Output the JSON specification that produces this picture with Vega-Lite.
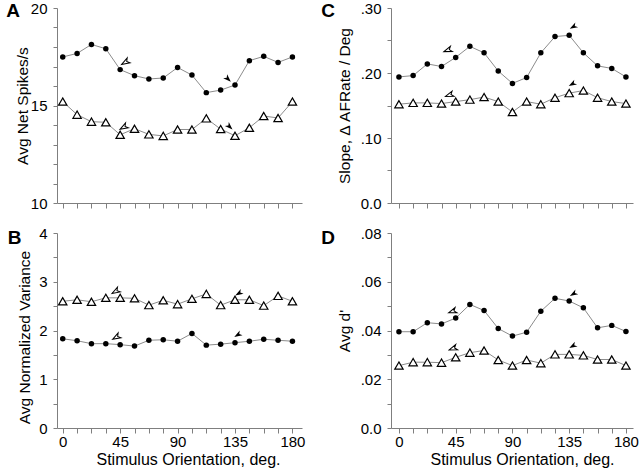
{
  "$schema": "https://vega.github.io/schema/vega-lite/v6.json",
  "autosize": {"type": "none"},
  "padding": {"left": 57, "top": 8, "right": 583, "bottom": 466},
  "background": "white",
  "datasets": {
    "a": [
      {"o": 0, "dot": 17.49, "tri": 15.2}, {"o": 11.25, "dot": 17.67, "tri": 14.53}, {"o": 22.5, "dot": 18.13, "tri": 14.17},
      {"o": 33.75, "dot": 17.91, "tri": 14.14}, {"o": 45, "dot": 16.84, "tri": 13.5}, {"o": 56.25, "dot": 16.53, "tri": 13.81},
      {"o": 67.5, "dot": 16.36, "tri": 13.52}, {"o": 78.75, "dot": 16.41, "tri": 13.44}, {"o": 90, "dot": 16.95, "tri": 13.77},
      {"o": 101.25, "dot": 16.56, "tri": 13.77}, {"o": 112.5, "dot": 15.66, "tri": 14.34}, {"o": 123.75, "dot": 15.79, "tri": 13.79},
      {"o": 135, "dot": 16.05, "tri": 13.45}, {"o": 146.25, "dot": 17.3, "tri": 13.86}, {"o": 157.5, "dot": 17.52, "tri": 14.46},
      {"o": 168.75, "dot": 17.21, "tri": 14.36}, {"o": 180, "dot": 17.49, "tri": 15.2}
    ],
    "b": [
      {"o": 0, "dot": 1.83, "tri": 2.6}, {"o": 11.25, "dot": 1.79, "tri": 2.63}, {"o": 22.5, "dot": 1.73, "tri": 2.59},
      {"o": 33.75, "dot": 1.73, "tri": 2.67}, {"o": 45, "dot": 1.71, "tri": 2.67}, {"o": 56.25, "dot": 1.68, "tri": 2.66},
      {"o": 67.5, "dot": 1.8, "tri": 2.52}, {"o": 78.75, "dot": 1.81, "tri": 2.62}, {"o": 90, "dot": 1.78, "tri": 2.54},
      {"o": 101.25, "dot": 1.94, "tri": 2.65}, {"o": 112.5, "dot": 1.7, "tri": 2.75}, {"o": 123.75, "dot": 1.72, "tri": 2.52},
      {"o": 135, "dot": 1.75, "tri": 2.63}, {"o": 146.25, "dot": 1.78, "tri": 2.63}, {"o": 157.5, "dot": 1.82, "tri": 2.51},
      {"o": 168.75, "dot": 1.8, "tri": 2.71}, {"o": 180, "dot": 1.78, "tri": 2.6}
    ],
    "c": [
      {"o": 0, "dot": 0.194, "tri": 0.152}, {"o": 11.25, "dot": 0.196, "tri": 0.154}, {"o": 22.5, "dot": 0.214, "tri": 0.154},
      {"o": 33.75, "dot": 0.21, "tri": 0.153}, {"o": 45, "dot": 0.224, "tri": 0.156}, {"o": 56.25, "dot": 0.241, "tri": 0.159},
      {"o": 67.5, "dot": 0.231, "tri": 0.163}, {"o": 78.75, "dot": 0.203, "tri": 0.156}, {"o": 90, "dot": 0.184, "tri": 0.14},
      {"o": 101.25, "dot": 0.193, "tri": 0.156}, {"o": 112.5, "dot": 0.231, "tri": 0.152}, {"o": 123.75, "dot": 0.256, "tri": 0.162},
      {"o": 135, "dot": 0.258, "tri": 0.169}, {"o": 146.25, "dot": 0.231, "tri": 0.173}, {"o": 157.5, "dot": 0.211, "tri": 0.162},
      {"o": 168.75, "dot": 0.207, "tri": 0.156}, {"o": 180, "dot": 0.194, "tri": 0.153}
    ],
    "d": [
      {"o": 0, "dot": 0.0395, "tri": 0.0256}, {"o": 11.25, "dot": 0.0395, "tri": 0.027}, {"o": 22.5, "dot": 0.0432, "tri": 0.027},
      {"o": 33.75, "dot": 0.0427, "tri": 0.0268}, {"o": 45, "dot": 0.0451, "tri": 0.029}, {"o": 56.25, "dot": 0.0507, "tri": 0.0309},
      {"o": 67.5, "dot": 0.0482, "tri": 0.0318}, {"o": 78.75, "dot": 0.0408, "tri": 0.0279}, {"o": 90, "dot": 0.0377, "tri": 0.0256},
      {"o": 101.25, "dot": 0.0393, "tri": 0.0279}, {"o": 112.5, "dot": 0.0479, "tri": 0.0266}, {"o": 123.75, "dot": 0.0532, "tri": 0.0302},
      {"o": 135, "dot": 0.0521, "tri": 0.0302}, {"o": 146.25, "dot": 0.0493, "tri": 0.0298}, {"o": 157.5, "dot": 0.0411, "tri": 0.0281},
      {"o": 168.75, "dot": 0.0421, "tri": 0.0281}, {"o": 180, "dot": 0.0396, "tri": 0.0256}
    ],
    "arrA": [{"o": 48.9, "v": 17.21, "k": "open"}, {"o": 129.5, "v": 16.36, "k": "filled"}, {"o": 47.6, "v": 13.88, "k": "open"}, {"o": 130.8, "v": 13.91, "k": "filled"}],
    "arrB": [{"o": 41.3, "v": 2.8, "k": "open"}, {"o": 137.9, "v": 2.76, "k": "filled"}, {"o": 41.8, "v": 1.86, "k": "open"}, {"o": 137.1, "v": 1.91, "k": "filled"}],
    "arrC": [{"o": 38.6, "v": 0.235, "k": "open"}, {"o": 138.2, "v": 0.271, "k": "filled"}, {"o": 39.9, "v": 0.166, "k": "open"}, {"o": 137.4, "v": 0.183, "k": "filled"}],
    "arrD": [{"o": 42.3, "v": 0.0478, "k": "open"}, {"o": 138.3, "v": 0.055, "k": "filled"}, {"o": 42.8, "v": 0.0326, "k": "open"}, {"o": 137.8, "v": 0.0336, "k": "filled"}]
  },
  "concat": [
    {
      "width": 245, "height": 195,
      "title": {"text": "A", "dx": -9, "dy": 24},
      "encoding": {
        "x": {"field": "o", "type": "quantitative", "scale": {"domain": [-4.5, 187.5], "nice": false, "zero": false},
              "axis": {"values": [0, 11.25, 22.5, 33.75, 45, 56.25, 67.5, 78.75, 90, 101.25, 112.5, 123.75, 135, 146.25, 157.5, 168.75, 180], "labels": false, "title": null}},
        "y": {"field": "v", "type": "quantitative", "scale": {"domain": [10, 20], "nice": false, "zero": false},
              "axis": {"values": [10, 11, 12, 13, 14, 15, 16, 17, 18, 19, 20], "labelExpr": "datum.value % 5 == 0 ? datum.label : ''", "title": "Avg Net Spikes/s", "titlePadding": 0}}
      },
      "layer": [
        {"data": {"name": "a"}, "transform": [{"fold": ["dot", "tri"], "as": ["s", "v"]}], "mark": {"type": "line", "color": "#8c8c8c", "strokeWidth": 1}, "encoding": {"detail": {"field": "s"}}},
        {"data": {"name": "a"}, "transform": [{"fold": ["dot"], "as": ["s", "v"]}], "mark": {"type": "point", "shape": "circle", "filled": true, "color": "black", "size": 30, "opacity": 1}},
        {"data": {"name": "a"}, "transform": [{"fold": ["tri"], "as": ["s", "v"]}], "mark": {"type": "point", "shape": "triangle-up", "fill": "white", "stroke": "black", "strokeWidth": 1.2, "size": 70, "opacity": 1, "fillOpacity": 1}},
        {"data": {"name": "arrA"}, "transform": [{"filter": "datum.k == 'open'"}], "mark": {"type": "point", "shape": "M -1 0 L 1 -0.7 L 0.45 0 L 1 0.7 Z", "angle": -30, "fill": "white", "stroke": "black", "strokeWidth": 1, "size": 64, "opacity": 1, "fillOpacity": 1}},
        {"data": {"name": "arrA"}, "transform": [{"filter": "datum.k == 'filled'"}], "mark": {"type": "point", "shape": "M -1 0 L 1 -0.7 L 0.45 0 L 1 0.7 Z", "angle": 225, "filled": true, "color": "black", "size": 64, "opacity": 1}}
      ]
    },
    {
      "width": 242, "height": 195,
      "title": {"text": "C", "dx": -16, "dy": 24},
      "encoding": {
        "x": {"field": "o", "type": "quantitative", "scale": {"domain": [-6.3, 185.6], "nice": false, "zero": false},
              "axis": {"values": [0, 11.25, 22.5, 33.75, 45, 56.25, 67.5, 78.75, 90, 101.25, 112.5, 123.75, 135, 146.25, 157.5, 168.75, 180], "labels": false, "title": null}},
        "y": {"field": "v", "type": "quantitative", "scale": {"domain": [0, 0.3], "nice": false},
              "axis": {"values": [0, 0.05, 0.1, 0.15, 0.2, 0.25, 0.3], "labelExpr": "datum.value == 0 ? '0.0' : (round(datum.value * 100) % 10 == 0 ? slice(format(datum.value, '.2f'), 1) : '')", "title": "Slope, Δ AFRate / Deg", "titlePadding": 8}}
      },
      "layer": [
        {"data": {"name": "c"}, "transform": [{"fold": ["dot", "tri"], "as": ["s", "v"]}], "mark": {"type": "line", "color": "#8c8c8c", "strokeWidth": 1}, "encoding": {"detail": {"field": "s"}}},
        {"data": {"name": "c"}, "transform": [{"fold": ["dot"], "as": ["s", "v"]}], "mark": {"type": "point", "shape": "circle", "filled": true, "color": "black", "size": 30, "opacity": 1}},
        {"data": {"name": "c"}, "transform": [{"fold": ["tri"], "as": ["s", "v"]}], "mark": {"type": "point", "shape": "triangle-up", "fill": "white", "stroke": "black", "strokeWidth": 1.2, "size": 70, "opacity": 1, "fillOpacity": 1}},
        {"data": {"name": "arrC"}, "transform": [{"filter": "datum.k == 'open'"}], "mark": {"type": "point", "shape": "M -1 0 L 1 -0.7 L 0.45 0 L 1 0.7 Z", "angle": -20, "fill": "white", "stroke": "black", "strokeWidth": 1, "size": 64, "opacity": 1, "fillOpacity": 1}},
        {"data": {"name": "arrC"}, "transform": [{"filter": "datum.k == 'filled'"}], "mark": {"type": "point", "shape": "M -1 0 L 1 -0.7 L 0.45 0 L 1 0.7 Z", "angle": -30, "filled": true, "color": "black", "size": 64, "opacity": 1}}
      ]
    },
    {
      "width": 245, "height": 195,
      "title": {"text": "B", "dx": -10, "dy": 26},
      "encoding": {
        "x": {"field": "o", "type": "quantitative", "scale": {"domain": [-4.5, 187.5], "nice": false, "zero": false},
              "axis": {"values": [0, 11.25, 22.5, 33.75, 45, 56.25, 67.5, 78.75, 90, 101.25, 112.5, 123.75, 135, 146.25, 157.5, 168.75, 180], "labelExpr": "datum.value % 45 == 0 ? datum.label : ''", "title": "Stimulus Orientation, deg.", "titleX": 131}},
        "y": {"field": "v", "type": "quantitative", "scale": {"domain": [0, 4], "nice": false},
              "axis": {"values": [0, 0.5, 1, 1.5, 2, 2.5, 3, 3.5, 4], "labelExpr": "datum.value % 1 == 0 ? format(datum.value, 'd') : ''", "title": "Avg Normalized Variance", "titlePadding": 6, "titleY": 104}}
      },
      "layer": [
        {"data": {"name": "b"}, "transform": [{"fold": ["dot", "tri"], "as": ["s", "v"]}], "mark": {"type": "line", "color": "#8c8c8c", "strokeWidth": 1}, "encoding": {"detail": {"field": "s"}}},
        {"data": {"name": "b"}, "transform": [{"fold": ["dot"], "as": ["s", "v"]}], "mark": {"type": "point", "shape": "circle", "filled": true, "color": "black", "size": 30, "opacity": 1}},
        {"data": {"name": "b"}, "transform": [{"fold": ["tri"], "as": ["s", "v"]}], "mark": {"type": "point", "shape": "triangle-up", "fill": "white", "stroke": "black", "strokeWidth": 1.2, "size": 70, "opacity": 1, "fillOpacity": 1}},
        {"data": {"name": "arrB"}, "transform": [{"filter": "datum.k == 'open'"}], "mark": {"type": "point", "shape": "M -1 0 L 1 -0.7 L 0.45 0 L 1 0.7 Z", "angle": -30, "fill": "white", "stroke": "black", "strokeWidth": 1, "size": 64, "opacity": 1, "fillOpacity": 1}},
        {"data": {"name": "arrB"}, "transform": [{"filter": "datum.k == 'filled'"}], "mark": {"type": "point", "shape": "M -1 0 L 1 -0.7 L 0.45 0 L 1 0.7 Z", "angle": -30, "filled": true, "color": "black", "size": 64, "opacity": 1}}
      ]
    },
    {
      "width": 242, "height": 195,
      "title": {"text": "D", "dx": -16, "dy": 26},
      "encoding": {
        "x": {"field": "o", "type": "quantitative", "scale": {"domain": [-6.3, 185.6], "nice": false, "zero": false},
              "axis": {"values": [0, 11.25, 22.5, 33.75, 45, 56.25, 67.5, 78.75, 90, 101.25, 112.5, 123.75, 135, 146.25, 157.5, 168.75, 180], "labelExpr": "datum.value % 45 == 0 ? datum.label : ''", "title": "Stimulus Orientation, deg.", "titleX": 131}},
        "y": {"field": "v", "type": "quantitative", "scale": {"domain": [0, 0.08], "nice": false},
              "axis": {"values": [0, 0.01, 0.02, 0.03, 0.04, 0.05, 0.06, 0.07, 0.08], "labelExpr": "datum.value == 0 ? '0.0' : (round(datum.value * 100) % 2 == 0 ? slice(format(datum.value, '.2f'), 1) : '')", "title": "Avg d'", "titlePadding": 8}}
      },
      "layer": [
        {"data": {"name": "d"}, "transform": [{"fold": ["dot", "tri"], "as": ["s", "v"]}], "mark": {"type": "line", "color": "#8c8c8c", "strokeWidth": 1}, "encoding": {"detail": {"field": "s"}}},
        {"data": {"name": "d"}, "transform": [{"fold": ["dot"], "as": ["s", "v"]}], "mark": {"type": "point", "shape": "circle", "filled": true, "color": "black", "size": 30, "opacity": 1}},
        {"data": {"name": "d"}, "transform": [{"fold": ["tri"], "as": ["s", "v"]}], "mark": {"type": "point", "shape": "triangle-up", "fill": "white", "stroke": "black", "strokeWidth": 1.2, "size": 70, "opacity": 1, "fillOpacity": 1}},
        {"data": {"name": "arrD"}, "transform": [{"filter": "datum.k == 'open'"}], "mark": {"type": "point", "shape": "M -1 0 L 1 -0.7 L 0.45 0 L 1 0.7 Z", "angle": -20, "fill": "white", "stroke": "black", "strokeWidth": 1, "size": 64, "opacity": 1, "fillOpacity": 1}},
        {"data": {"name": "arrD"}, "transform": [{"filter": "datum.k == 'filled'"}], "mark": {"type": "point", "shape": "M -1 0 L 1 -0.7 L 0.45 0 L 1 0.7 Z", "angle": -30, "filled": true, "color": "black", "size": 64, "opacity": 1}}
      ]
    }
  ],
  "columns": 2,
  "spacing": {"row": 30, "column": 89},
  "bounds": "flush",
  "config": {
    "font": "Liberation Sans",
    "view": {"stroke": null},
    "title": {"anchor": "start", "frame": "bounds", "fontSize": 19, "fontWeight": "bold", "offset": 0, "baseline": "alphabetic", "color": "black", "font": "Liberation Sans"},
    "axis": {"grid": false, "domainColor": "#7f7f7f", "tickColor": "#7f7f7f", "labelFontSize": 15, "titleFontSize": 16, "titleFontWeight": "normal", "labelColor": "black", "titleColor": "black", "labelFont": "Liberation Sans", "titleFont": "Liberation Sans", "labelOverlap": false, "labelFlush": false},
    "axisX": {"tickSize": 5, "labelPadding": 1, "titlePadding": 2, "labelAngle": 0},
    "axisY": {"tickSize": 4, "labelPadding": 6, "titleFontSize": 15.5}
  }
}
